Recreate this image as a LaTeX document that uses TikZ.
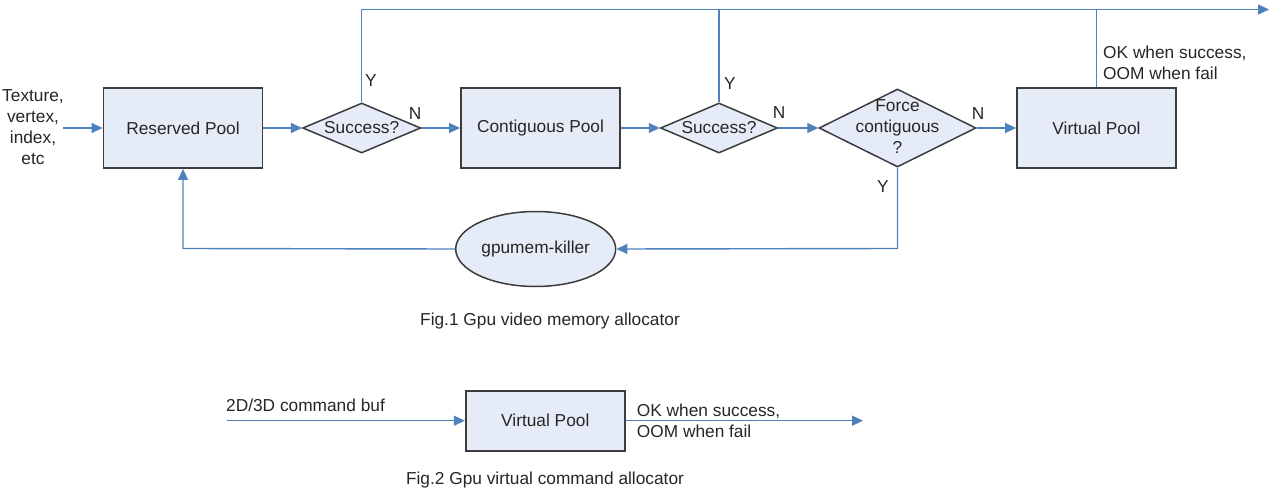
\documentclass[tikz,border=0pt]{standalone}
\usepackage{fontspec}
\setmainfont{Liberation Sans}
\usetikzlibrary{shapes.geometric,arrows.meta}
\definecolor{lineblue}{RGB}{79,129,189}
\definecolor{boxfill}{RGB}{230,236,247}
\definecolor{boxdraw}{RGB}{60,60,60}
\definecolor{txt}{RGB}{38,38,38}
\begin{document}
\begin{tikzpicture}[x=1pt,y=-1pt,
  every node/.style={font=\fontsize{17.3}{21}\selectfont, text=txt},
  poolbox/.style={draw=boxdraw, fill=boxfill, line width=1.8pt, rectangle, inner sep=0pt, minimum width=159pt, minimum height=80pt},
  decision/.style={draw=boxdraw, fill=boxfill, line width=1.5pt, diamond, inner sep=0pt},
  killer/.style={draw=boxdraw, fill=boxfill, line width=1.5pt, ellipse, inner sep=0pt, minimum width=160pt, minimum height=75pt},
  flow/.style={draw=lineblue, line width=1.4pt},
  flowarrow/.style={flow, -{Triangle[length=11pt,width=10pt]}},
  yn/.style={inner sep=0pt}
]
\useasboundingbox (0,0) rectangle (1273,492);

% Fig. 1 nodes
\node[align=center] (input) at (33,127.5) {Texture,\\vertex,\\index,\\etc};
\coordinate (instart) at (63,128);
\node[poolbox] (reserved) at (183,128) {Reserved Pool};
\node[decision, minimum width=118pt, minimum height=50pt] (d1) at (361.7,128) {};
\node (d1t) at (361.7,128) {Success?};
\node[poolbox] (contig) at (540.5,128) {Contiguous Pool};
\node[decision, minimum width=117pt, minimum height=50pt] (d2) at (719,128) {};
\node (d2t) at (719,128) {Success?};
\node[decision, minimum width=157pt, minimum height=78pt] (d3) at (897.5,128) {};
\node[align=center] (d3t) at (897.5,127) {Force\\contiguous\\?};
\node[poolbox] (vp) at (1096.5,128) {Virtual Pool};
\node[killer] (killer) at (535.7,249) {gpumem-killer};

\coordinate (topleft) at (361.7,9.5);
\coordinate (topend) at (1269,9.5);
\coordinate (d2top) at (719,9.5);
\coordinate (vptop) at (1096.5,9.5);
\coordinate (d3corner) at (897.5,248.5);
\coordinate (rescorner) at (183,248.5);

% Fig. 1 connectors
\draw[flowarrow] (instart) -- (reserved.west);
\draw[flowarrow] (reserved.east) -- (d1.west);
\draw[flowarrow] (d1.east) -- (contig.west);
\draw[flowarrow] (contig.east) -- (d2.west);
\draw[flowarrow] (d2.east) -- (d3.west);
\draw[flowarrow] (d3.east) -- (vp.west);
\draw[flowarrow] (d1.north) -- (topleft) -- (topend);
\draw[flow] (d2.north) -- (d2top);
\draw[flow] (vp.north) -- (vptop);
\draw[flowarrow] (d3.south) -- (d3corner) -- (killer.east);
\draw[flowarrow] (killer.west) -- (rescorner) -- (reserved.south);

% Y / N labels
\node[yn] (y1) at (371,81) {Y};
\node[yn] (n1) at (415,114) {N};
\node[yn] (y2) at (730,84) {Y};
\node[yn] (n2) at (779,113) {N};
\node[yn] (n3) at (978,114) {N};
\node[yn] (y3) at (883,187) {Y};
\node[anchor=west, align=left, inner sep=0pt] (okfail) at (1103,62.5) {OK when success,\\OOM when fail};

\node (cap1) at (550,321) {Fig.1 Gpu video memory allocator};

% Fig. 2
\node[poolbox, minimum height=60pt] (vp2) at (545.3,420.7) {Virtual Pool};
\coordinate (in2) at (227,420.7);
\coordinate (out2) at (863,420.7);
\draw[flowarrow] (in2) -- (vp2.west);
\draw[flowarrow] (vp2.east) -- (out2);
\node[anchor=west, inner sep=0pt] (cmdbuf) at (226,405) {2D/3D command buf};
\node[anchor=west, align=left, inner sep=0pt] (okfail2) at (636.7,420.5) {OK when success,\\OOM when fail};
\node (cap2) at (545,480) {Fig.2 Gpu virtual command allocator};
\end{tikzpicture}
\end{document}
